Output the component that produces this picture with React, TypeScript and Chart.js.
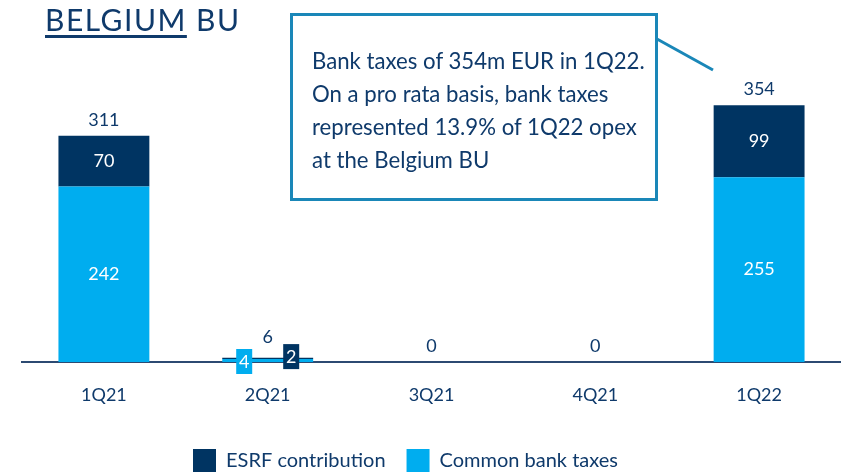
import React, { useEffect, useRef } from "react";
import { Chart, registerables } from "chart.js";

Chart.register(...registerables);

const categories = ["1Q21", "2Q21", "3Q21", "4Q21", "1Q22"];
const commonBankTaxes = [242, 4, 0, 0, 255];
const esrfContribution = [70, 2, 0, 0, 99];
const totals = [311, 6, 0, 0, 354];

const NAVY = "#0f3a6b";
const DARK = "#003462";
const LIGHT = "#00adef";
const FONT = "Lato, 'Open Sans', sans-serif";

const labelPlugin = {
  id: "barLabels",
  afterDatasetsDraw(chart: any) {
    const ctx = chart.ctx;
    ctx.save();
    ctx.font = `18px ${FONT}`;
    ctx.textAlign = "center";
    ctx.textBaseline = "middle";
    const n = chart.data.labels.length;
    const smallAt: boolean[] = new Array(n).fill(false);
    chart.data.datasets.forEach((ds: any, i: number) => {
      const meta = chart.getDatasetMeta(i);
      meta.data.forEach((el: any, j: number) => {
        const v = ds.data[j];
        if (!v) return;
        const h = Math.abs(el.base - el.y);
        if (h >= 20) {
          ctx.fillStyle = "#ffffff";
          ctx.fillText(String(v), el.x, (el.y + el.base) / 2);
        } else {
          smallAt[j] = true;
          const cx = el.x + (i === 0 ? -23.5 : 23.5);
          const cy = el.base + (i === 0 ? -1 : -3);
          ctx.fillStyle = ds.backgroundColor;
          ctx.fillRect(cx - 8, cy - 12, 16, 25);
          ctx.fillStyle = "#ffffff";
          ctx.fillText(String(v), cx, cy + 1);
        }
      });
    });
    ctx.fillStyle = NAVY;
    for (let j = 0; j < n; j++) {
      let top = Infinity;
      let x = 0;
      chart.data.datasets.forEach((_: any, i: number) => {
        const el = chart.getDatasetMeta(i).data[j];
        top = Math.min(top, el.y);
        x = el.x;
      });
      const y = top - 16 - (smallAt[j] ? 4 : 0);
      ctx.fillText(String(totals[j]), x, y);
    }
    ctx.restore();
  },
};

const legendShift = {
  id: "legendShift",
  afterLayout(chart: any) {
    const lg = chart.legend;
    if (!lg) return;
    lg.left -= 26;
    lg.right -= 26;
    lg.top += 10;
    lg.bottom += 10;
  },
};

export default function App() {
  const ref = useRef<HTMLCanvasElement | null>(null);
  useEffect(() => {
    if (!ref.current) return;
    const chart = new Chart(ref.current, {
      type: "bar",
      data: {
        labels: categories,
        datasets: [
          {
            label: "Common bank taxes",
            data: commonBankTaxes,
            backgroundColor: LIGHT,
            borderWidth: 0,
            categoryPercentage: 1,
            barPercentage: 0.555,
          },
          {
            label: "ESRF contribution",
            data: esrfContribution,
            backgroundColor: DARK,
            borderWidth: 0,
            categoryPercentage: 1,
            barPercentage: 0.555,
          },
        ],
      },
      options: {
        responsive: false,
        animation: false,
        layout: { padding: { left: 22, right: 0, top: 14, bottom: 0 } },
        plugins: {
          legend: {
            position: "bottom",
            reverse: true,
            labels: {
              boxWidth: 23,
              boxHeight: 23,
              padding: 21,
              color: NAVY,
              font: { size: 20, family: FONT },
            },
          },
          tooltip: { enabled: false },
          title: { display: false },
        },
        scales: {
          x: {
            stacked: true,
            grid: { display: false, drawTicks: false },
            border: { display: true, color: "#2c4a72", width: 2 },
            ticks: { color: NAVY, font: { size: 18, family: FONT }, padding: 22 },
            afterFit: (s: any) => {
              s.height = 56;
            },
          },
          y: {
            stacked: true,
            display: false,
            min: 0,
            max: 480,
          },
        },
      },
      plugins: [labelPlugin, legendShift],
    });
    return () => chart.destroy();
  }, []);

  return (
    <div style={{ position: "absolute", left: 0, top: 0, width: 841, height: 472, background: "#fff", fontFamily: FONT }}>
      <canvas ref={ref} width={841} height={472} style={{ position: "absolute", left: 0, top: 0 }} />
      <div style={{ position: "absolute", left: 45, top: 0, fontSize: 30, letterSpacing: "1.5px", color: NAVY, lineHeight: "38px", whiteSpace: "nowrap" }}>
        <span style={{ textDecoration: "underline", textDecorationThickness: 3, textUnderlineOffset: 4 }}>BELGIUM</span> BU
      </div>
      <svg width={841} height={472} style={{ position: "absolute", left: 0, top: 0, pointerEvents: "none" }}>
        <line x1={657} y1={39} x2={713} y2={70} stroke="#1a87b8" strokeWidth={3} />
      </svg>
      <div
        style={{
          position: "absolute",
          left: 290,
          top: 13,
          width: 368,
          height: 188,
          border: "3px solid #1a87b8",
          color: NAVY,
          fontSize: 22.2,
          lineHeight: "33px",
          padding: "28px 0 0 19px",
          boxSizing: "border-box",
          whiteSpace: "nowrap",
        }}
      >
        Bank taxes of 354m EUR in 1Q22.
        <br />
        On a pro rata basis, bank taxes
        <br />
        represented 13.9% of 1Q22 opex
        <br />
        at the Belgium BU
      </div>
    </div>
  );
}
